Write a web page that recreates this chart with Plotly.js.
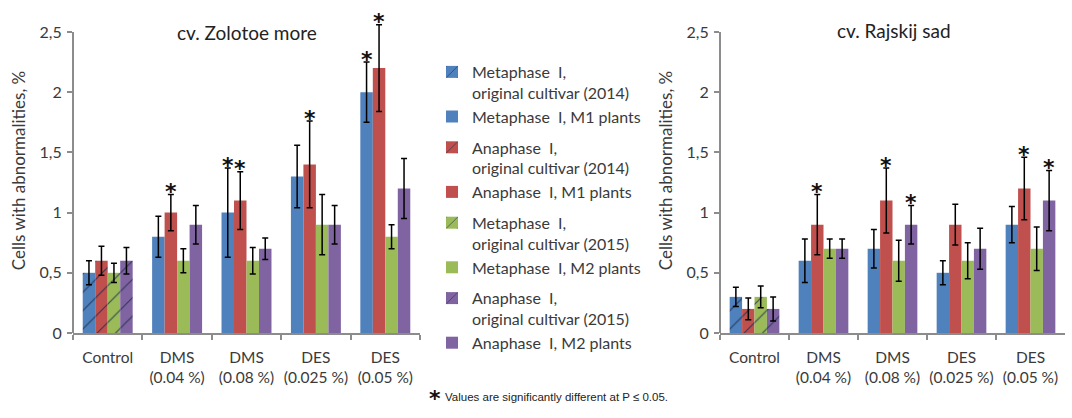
<!DOCTYPE html>
<html><head><meta charset="utf-8">
<script src="https://cdn.plot.ly/plotly-3.0.1.min.js"></script>
<style>html,body{margin:0;padding:0;background:#fff}#chart{width:1072px;height:418px}</style>
</head><body><div id="chart"></div>
<script>
// ---- data ----
const categories = ['Control', 'DMS (0.04 %)', 'DMS (0.08 %)', 'DES (0.025 %)', 'DES (0.05 %)'];
const tickLabels = ['Control', 'DMS<br>(0.04 %)', 'DMS<br>(0.08 %)', 'DES<br>(0.025 %)', 'DES<br>(0.05 %)'];
const yTickVals = [0, 0.5, 1, 1.5, 2, 2.5];

const seriesControlNames = ['Metaphase\u00a0 I,<br>original cultivar (2014)', 'Anaphase\u00a0 I,<br>original cultivar (2014)',
                            'Metaphase\u00a0 I,<br>original cultivar (2015)', 'Anaphase\u00a0 I,<br>original cultivar (2015)'];
const seriesNames = ['Metaphase\u00a0 I, M1 plants', 'Anaphase\u00a0 I, M1 plants', 'Metaphase\u00a0 I, M2 plants', 'Anaphase\u00a0 I, M2 plants'];
const seriesColors = ['#4F81BD', '#C0504D', '#9BBB59', '#8064A2'];

// cv. Zolotoe more
const zmMetaM1 = [0.5, 0.8, 1.0, 1.3, 2.0];
const zmMetaM1Err = [0.1, 0.17, 0.37, 0.26, 0.25];
const zmAnaM1 = [0.6, 1.0, 1.1, 1.4, 2.2];
const zmAnaM1Err = [0.12, 0.15, 0.24, 0.36, 0.36];
const zmMetaM2 = [0.5, 0.6, 0.6, 0.9, 0.8];
const zmMetaM2Err = [0.08, 0.1, 0.11, 0.25, 0.1];
const zmAnaM2 = [0.6, 0.9, 0.7, 0.9, 1.2];
const zmAnaM2Err = [0.11, 0.16, 0.09, 0.16, 0.25];
const zmStarMetaM1 = [0, 0, 1, 0, 1];
const zmStarAnaM1 = [0, 1, 1, 1, 1];
const zmStarMetaM2 = [0, 0, 0, 0, 0];
const zmStarAnaM2 = [0, 0, 0, 0, 0];

// cv. Rajskij sad
const rsMetaM1 = [0.3, 0.6, 0.7, 0.5, 0.9];
const rsMetaM1Err = [0.08, 0.18, 0.16, 0.1, 0.15];
const rsAnaM1 = [0.2, 0.9, 1.1, 0.9, 1.2];
const rsAnaM1Err = [0.09, 0.25, 0.27, 0.17, 0.26];
const rsMetaM2 = [0.3, 0.7, 0.6, 0.6, 0.7];
const rsMetaM2Err = [0.09, 0.08, 0.17, 0.15, 0.18];
const rsAnaM2 = [0.2, 0.7, 0.9, 0.7, 1.1];
const rsAnaM2Err = [0.1, 0.08, 0.16, 0.17, 0.25];
const rsStarMetaM1 = [0, 0, 0, 0, 0];
const rsStarAnaM1 = [0, 1, 1, 0, 1];
const rsStarMetaM2 = [0, 0, 0, 0, 0];
const rsStarAnaM2 = [0, 0, 1, 0, 1];

const panelTitles = ['cv. Zolotoe more', 'cv. Rajskij sad'];
const yTitle = 'Cells with abnormalities, %';
const footnote = 'Values are significantly different at P \u2264 0.05.';

// ---- build ----
const FONT = 'Lato, "Open Sans", sans-serif';
const TXT = '#3a3a3a';
const AXC = '#8c8c8c';
const BARGAP = 0.28;
const Y_MAX_SHOWN = 2.5;   // axis line ends here
const Y_RANGE_TOP = 2.7;   // room for error bars / stars above the last tick
const panels = [
  {ax: '', vals: [zmMetaM1, zmAnaM1, zmMetaM2, zmAnaM2], errs: [zmMetaM1Err, zmAnaM1Err, zmMetaM2Err, zmAnaM2Err],
   stars: [zmStarMetaM1, zmStarAnaM1, zmStarMetaM2, zmStarAnaM2]},
  {ax: '2', vals: [rsMetaM1, rsAnaM1, rsMetaM2, rsAnaM2], errs: [rsMetaM1Err, rsAnaM1Err, rsMetaM2Err, rsAnaM2Err],
   stars: [rsStarMetaM1, rsStarAnaM1, rsStarMetaM2, rsStarAnaM2]}
];

const traces = [];
const annotations = [];
const shapes = [];
const barW = (1 - BARGAP) / 4;
panels.forEach((p, pi) => {
  for (let s = 0; s < 4; s++) {
    const common = {
      type: 'bar', xaxis: 'x' + p.ax, yaxis: 'y' + p.ax,
      offsetgroup: 'g' + s, legendgroup: 'lg' + s,
      showlegend: pi === 0, hoverinfo: 'skip', cliponaxis: false
    };
    // control (original cultivar), hatched
    traces.push(Object.assign({}, common, {
      name: seriesControlNames[s],
      x: categories.slice(0, 1), y: p.vals[s].slice(0, 1),
      marker: {color: seriesColors[s], line: {width: 0},
               pattern: {shape: '/', size: 13, solidity: 0.09, fgcolor: '#1b2a4a', fgopacity: 0.8,
                         bgcolor: seriesColors[s], fillmode: 'replace'}},
      error_y: {type: 'data', array: p.errs[s].slice(0, 1), color: '#000', thickness: 1.5, width: 3}
    }));
    // treated plants, solid
    traces.push(Object.assign({}, common, {
      name: seriesNames[s],
      x: categories.slice(1), y: p.vals[s].slice(1),
      marker: {color: seriesColors[s], line: {width: 0}},
      error_y: {type: 'data', array: p.errs[s].slice(1), color: '#000', thickness: 1.5, width: 3}
    }));
    // significance stars
    p.stars[s].forEach((flag, ci) => {
      if (!flag) return;
      annotations.push({
        xref: 'x' + p.ax, yref: 'y' + p.ax,
        x: ci + (s - 1.5) * barW, y: p.vals[s][ci] + p.errs[s][ci],
        text: '<b>*</b>', showarrow: false, yanchor: 'middle', yshift: 3,
        font: {family: 'DejaVu Sans, sans-serif', size: 22, color: '#111'}
      });
    });
  }
  // y axis line only up to the last labelled tick
  shapes.push({type: 'line', xref: 'x' + p.ax + ' domain', yref: 'y' + p.ax,
    x0: 0, x1: 0, y0: 0, y1: Y_MAX_SHOWN, line: {color: AXC, width: 2}, layer: 'above'});
});

// panel titles
annotations.push({xref: 'paper', yref: 'paper', x: 0.2304, y: 0.9234, text: panelTitles[0], showarrow: false,
  xanchor: 'center', yanchor: 'middle', font: {family: FONT, size: 19, color: '#222'}});
annotations.push({xref: 'paper', yref: 'paper', x: 0.834, y: 0.928, text: panelTitles[1], showarrow: false,
  xanchor: 'center', yanchor: 'middle', font: {family: FONT, size: 19, color: '#222'}});
// footnote
annotations.push({xref: 'paper', yref: 'paper', x: 435 / 1072, y: (418 - 398) / 418, text: '<b>*</b>', showarrow: false,
  xanchor: 'center', yanchor: 'middle', font: {family: 'DejaVu Sans, sans-serif', size: 22, color: '#111'}});
annotations.push({xref: 'paper', yref: 'paper', x: 443 / 1072, y: (418 - 397) / 418, text: footnote, showarrow: false,
  xanchor: 'left', yanchor: 'middle', font: {family: 'Liberation Sans, Arial, sans-serif', size: 11.5, color: '#222'}});

const PX_PER_UNIT = (333 - 32) / Y_MAX_SHOWN;
const yTopPx = 333 - PX_PER_UNIT * Y_RANGE_TOP;
const yDomain = [(418 - 333) / 418, (418 - yTopPx) / 418];

function xAxis(domain, anchor) {
  return {
    domain: domain, anchor: anchor, type: 'category', categoryorder: 'array', categoryarray: categories,
    tickvals: categories, ticktext: tickLabels, range: [-0.5, 4.5], tickangle: 0,
    showline: true, linecolor: AXC, linewidth: 2, ticks: 'outside', tickson: 'boundaries',
    ticklen: 5, tickwidth: 2, tickcolor: AXC, showgrid: false, zeroline: false, ticklabelstandoff: 9,
    tickfont: {family: FONT, size: 15.5, color: TXT}, automargin: false, fixedrange: true
  };
}
function yAxis(domain, anchor) {
  return {
    domain: domain, anchor: anchor, range: [0, Y_RANGE_TOP], tickvals: yTickVals,
    showline: false, ticks: 'outside', ticklen: 5, tickwidth: 2,
    tickcolor: AXC, showgrid: false, zeroline: false, ticklabelstandoff: 2,
    tickfont: {family: FONT, size: 16, color: TXT},
    title: {text: yTitle, font: {family: FONT, size: 17, color: TXT}, standoff: 9},
    automargin: false, fixedrange: true
  };
}

const layout = {
  width: 1072, height: 418,
  margin: {l: 0, r: 0, t: 0, b: 0},
  paper_bgcolor: '#fff', plot_bgcolor: '#fff',
  separators: ', ',
  barmode: 'group', bargap: BARGAP, bargroupgap: 0,
  xaxis: xAxis([73 / 1072, 420 / 1072], 'y'),
  yaxis: yAxis(yDomain, 'x'),
  xaxis2: xAxis([720 / 1072, 1065 / 1072], 'y2'),
  yaxis2: yAxis(yDomain, 'x2'),
  showlegend: true,
  legend: {
    x: 432 / 1072, y: (418 - 55) / 418, xanchor: 'left', yanchor: 'top',
    traceorder: 'grouped', tracegroupgap: 7, valign: 'top', itemwidth: 30,
    font: {family: FONT, size: 16, color: TXT}, bgcolor: 'rgba(0,0,0,0)'
  },
  shapes: shapes,
  annotations: annotations
};

Plotly.newPlot('chart', traces, layout, {displayModeBar: false, staticPlot: true});
</script>
</body></html>
